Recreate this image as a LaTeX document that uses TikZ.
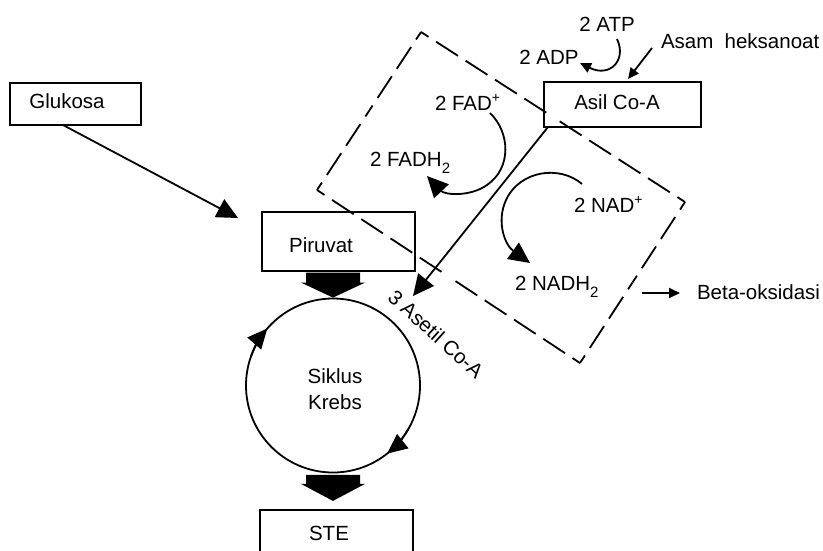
\documentclass[tikz,border=0pt]{standalone}
\usepackage{fontspec}
\setmainfont{Liberation Sans}
\usetikzlibrary{arrows.meta,calc}
\newcommand\lbf{\fontsize{20.5}{24}\selectfont}
\newcommand\subtwo{\raisebox{-7pt}{\fontsize{15}{15}\selectfont 2}}
\newcommand\supplus{\raisebox{8pt}{\fontsize{14}{14}\selectfont +}}
\tikzset{
  box/.style={draw, line width=1.8pt, inner sep=0pt, outer sep=0pt},
  lbl/.style={font=\lbf, inner sep=0pt, outer sep=0pt, anchor=base},
  lblw/.style={font=\lbf, inner sep=0pt, outer sep=0pt, anchor=base west},
  bigarr/.style={line width=1.8pt, -{Triangle[length=21pt,width=20pt]}},
  smallarr/.style={line width=1.8pt, -{Triangle[length=11pt,width=10pt]}},
  dashline/.style={line width=1.8pt, dash pattern=on 26pt off 9pt, dash phase=17pt},
}
\begin{document}
\begin{tikzpicture}[x=1pt,y=-1pt]
\useasboundingbox (0,0) rectangle (823,550);
\clip (0,0) rectangle (823,550);

% boxes
\node[box, minimum width=131pt, minimum height=42pt] (glu) at (75.5,104) {};
\node[box, minimum width=153pt, minimum height=59pt] (piru) at (338.5,241.5) {};
\node[box, minimum width=157pt, minimum height=45pt] (asil) at (622.5,104.5) {};
\node[box, minimum width=153pt, minimum height=60pt] (ste) at (336.5,540) {};
\node[draw, circle, line width=1.8pt, minimum size=174pt, inner sep=0pt] (krebs) at (333,385.5) {};

% texts
\node[lbl] (tglu) at (67,108) {Glukosa};
\node[lbl] (tpiru) at (321,252) {Piruvat};
\node[lbl] (tsik) at (335,383) {Siklus};
\node[lbl] (tkre) at (335,409) {Krebs};
\node[lbl] (tste) at (329,540) {STE};
\node[lbl] (tasil) at (617,109) {Asil Co-A};
\node[lbl] (tatp) at (607,31) {2 ATP};
\node[lbl] (tadp) at (549,64) {2 ADP};
\node[lblw] (tasam) at (661,48) {Asam\hspace{0.55em}heksanoat};
\node[lblw] (tfad) at (435,110) {2 FAD\supplus};
\node[lblw] (tfadh) at (370,166) {2 FADH\subtwo};
\node[lblw] (tnad) at (574,212) {2 NAD\supplus};
\node[lblw] (tnadh) at (515,290) {2 NADH\subtwo};
\node[lblw] (tbeta) at (697,299) {Beta-oksidasi};
\node[font=\lbf, inner sep=0pt, rotate=-42] (tacet) at (436,334) {3 Asetil Co-A};

% dashed region
\coordinate (dT) at (421,32);
\coordinate (dR) at (685,202);
\coordinate (dB) at (580,363);
\coordinate (dL) at (317,190);
\foreach \a/\b in {dT/dR, dR/dB, dB/dL, dL/dT}{
  \draw[dashline] (\a) -- ($(\a)!0.5!(\b)$);
  \draw[dashline] (\b) -- ($(\a)!0.5!(\b)$);
}

% block arrows
\fill (krebs.north) -- ++(-32,-15) -- ++(5,0) -- ++(0,-10) -- ++(54,0) -- ++(0,10) -- ++(5,0) -- cycle;
\path (krebs.south) ++(0,27.5) coordinate (t2);
\fill (t2) -- ++(-32,-17) -- ++(5,0) -- ++(0,-9) -- ++(54,0) -- ++(0,9) -- ++(5,0) -- cycle;

% cycle arrowheads
\draw[line width=1.8pt, -{Triangle[length=20pt,width=18pt]}] (krebs.center) ++(200:87) arc[start angle=200, end angle=221, radius=87];
\draw[line width=1.8pt, -{Triangle[length=20pt,width=18pt]}] (krebs.center) ++(30:87) arc[start angle=30, end angle=51.5, radius=87];

% connectors
\draw[bigarr] ([xshift=-12.5pt]glu.south) -- (238,218) coordinate (gtip);
\coordinate (acetip) at (413,296);
\draw[bigarr] ([xshift=4pt]asil.south west) -- (acetip);

\coordinate (fad0) at (490,113);
\coordinate (fad1) at (487,185);
\coordinate (fad2) at (427,176);
\draw[bigarr] (fad0) .. controls (510,132) and (512,168) .. (fad1) .. controls (470,197) and (445,195) .. (fad2);

\coordinate (nad0) at (582,184);
\coordinate (nad1) at (506,200);
\coordinate (nad2) at (530,263);
\draw[bigarr] (nad0) .. controls (560,165) and (520,170) .. (nad1) .. controls (496,222) and (505,245) .. (nad2);

\coordinate (atp0) at (617,39);
\coordinate (atp1) at (580,63);
\draw[smallarr] (atp0) .. controls (627,60) and (610,78) .. (atp1);

\coordinate (asam0) at (652,48);
\draw[smallarr] (asam0) -- ([xshift=5.5pt,yshift=3pt]asil.north);

\coordinate (beta0) at (642,293);
\coordinate (beta1) at (680,293);
\draw[smallarr] (beta0) -- (beta1);
\end{tikzpicture}
\end{document}
